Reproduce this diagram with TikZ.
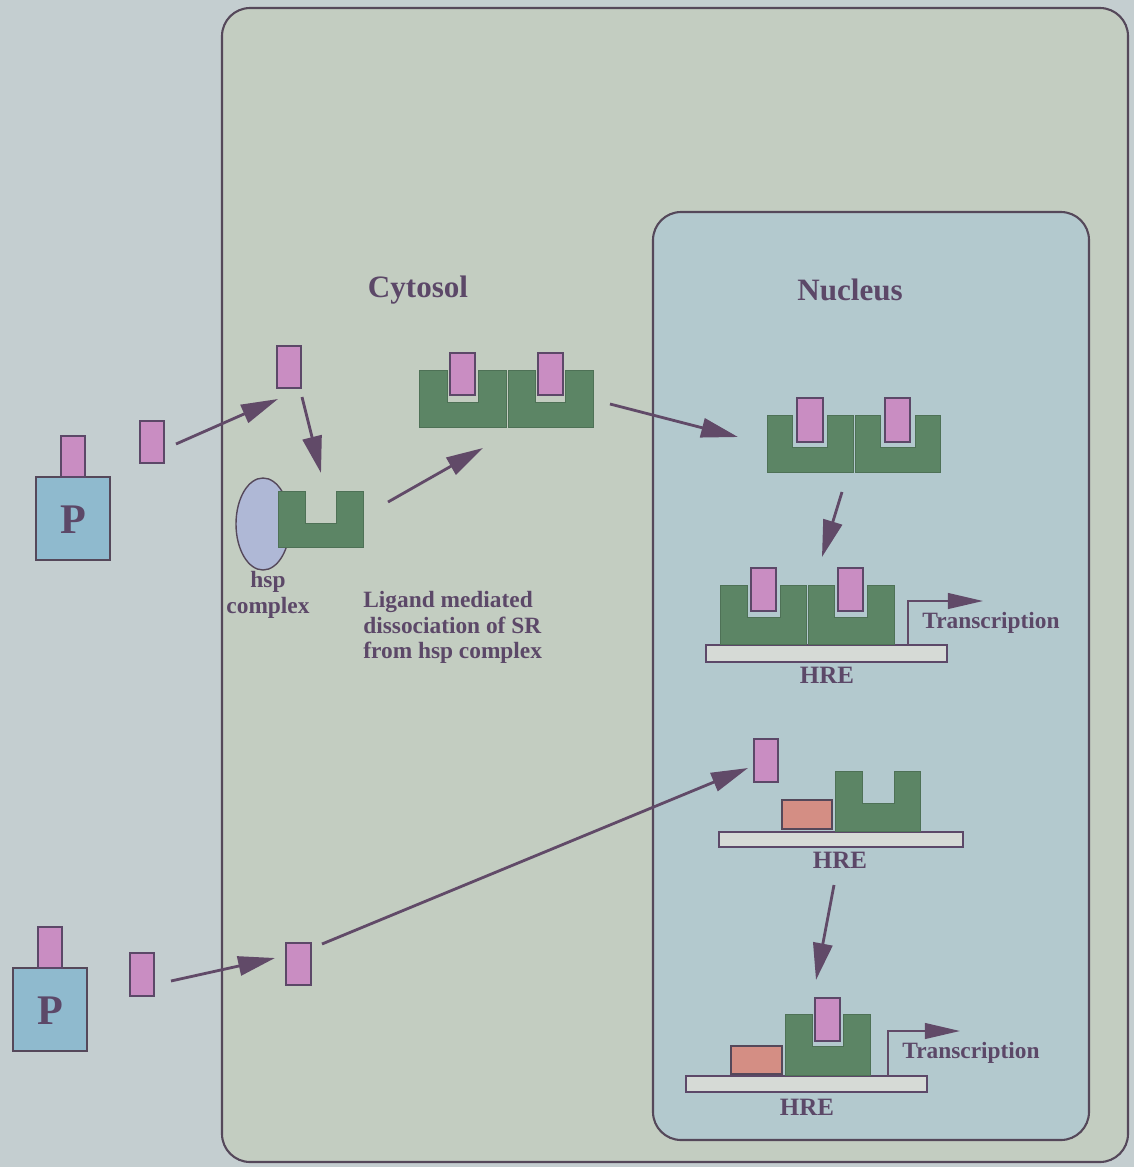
\documentclass[tikz,border=0pt]{standalone}
\usepackage{fontspec}
\setmainfont{Liberation Serif}
\usetikzlibrary{arrows.meta}
\definecolor{bgout}{HTML}{C4CED0}
\definecolor{cyto}{HTML}{C3CDC1}
\definecolor{nucl}{HTML}{B3C9CE}
\definecolor{lig}{HTML}{C98DC2}
\definecolor{rec}{HTML}{5C8565}
\definecolor{pbox}{HTML}{8FBACE}
\definecolor{hspc}{HTML}{AFB8D6}
\definecolor{coact}{HTML}{D48E84}
\definecolor{ink}{HTML}{5C4868}
\definecolor{arrc}{HTML}{614A68}
\definecolor{edge}{HTML}{55485A}
\definecolor{hre}{HTML}{D6DAD6}
\newcommand\ushape[7]{\filldraw[receptor] (#1,#2) -- (#5,#2) -- (#5,#7) -- (#6,#7) -- (#6,#2) -- (#3,#2) -- (#3,#4) -- (#1,#4) -- cycle;}
\begin{document}
\begin{tikzpicture}[x=0.02cm,y=-0.02cm,
 ligand/.style={fill=lig,draw=ink,line width=0.7pt},
 receptor/.style={fill=rec,draw=rec!85!black,line width=0.4pt},
 pboxst/.style={fill=pbox,draw=edge,line width=0.9pt},
 coactst/.style={fill=coact,draw=edge,line width=0.6pt},
 arr/.style={draw=arrc,line width=1.6pt,-{Triangle[length=21pt,width=11pt]}},
 tarr/.style={draw=arrc,line width=1pt,-{Triangle[length=20pt,width=9pt]}},
 lbl/.style={text=ink,font=\bfseries\fontsize{13.3}{14.5}\selectfont,inner sep=0pt},
 hrelbl/.style={text=ink,font=\bfseries\fontsize{14.2}{16}\selectfont,inner sep=0pt},
 titlest/.style={text=ink,font=\bfseries\fontsize{17.7}{20}\selectfont,inner sep=0pt},
 plbl/.style={text=ink,font=\bfseries\fontsize{24}{26}\selectfont,inner sep=0pt},
 hrebar/.style={fill=hre,draw=ink,line width=1pt},
 compart/.style={draw=edge,line width=1.2pt,rounded corners=16pt}]
\useasboundingbox (0,0) rectangle (1134,1167);
\fill[bgout] (0,0) rectangle (1134,1167);
% compartments
\filldraw[compart,fill=cyto] (222,8) rectangle (1128,1162);
\filldraw[compart,fill=nucl] (653,212) rectangle (1089,1140);
\node[titlest] (cytosol) at (418,290) {Cytosol};
\node[titlest] (nucleus) at (850,290) {Nucleus};
% P 1
\filldraw[pboxst] (36,477) rectangle (110,560);
\filldraw[ligand] (61,436) rectangle (85,477);
\node[plbl] (p1) at (73,520) {P};
\filldraw[ligand] (140,421) rectangle (164,463);
% P 2
\filldraw[pboxst] (13,968) rectangle (87,1051);
\filldraw[ligand] (38,927) rectangle (62,968);
\node[plbl] (p2) at (50,1011) {P};
\filldraw[ligand] (130,953) rectangle (154,996);
% cytosol ligands
\filldraw[ligand] (277,346) rectangle (301,388);
\filldraw[ligand] (286,943) rectangle (311,985);
% hsp complex
\filldraw[fill=hspc,draw=edge,line width=0.8pt] (263,524) ellipse [x radius=27,y radius=46];
\ushape{278}{491}{363}{547}{305}{336}{523}
\node[lbl,align=center] (hsp) at (268,595) {hsp\\complex};
\node[lbl,align=left,anchor=north west] (lig) at (363,591) {Ligand mediated\\dissociation of SR\\from hsp complex};
% cytosol dimer
\ushape{419}{370}{506}{427}{447}{478}{402}
\ushape{508}{370}{593}{427}{535}{565}{402}
\filldraw[ligand] (450,353) rectangle (475,395);
\filldraw[ligand] (538,353) rectangle (563,395);
% nucleus dimer
\ushape{767}{415}{853}{472}{792}{827}{447}
\ushape{855}{415}{940}{472}{880}{915}{447}
\filldraw[ligand] (797,398) rectangle (823,442);
\filldraw[ligand] (885,398) rectangle (910,442);
% dimer on HRE
\filldraw[hrebar] (706,645) rectangle (947,662);
\ushape{720}{585}{806}{644}{747}{780}{617}
\ushape{808}{585}{894}{644}{834}{867}{617}
\filldraw[ligand] (751,568) rectangle (776,611);
\filldraw[ligand] (838,568) rectangle (863,611);
\node[hrelbl] (hre1) at (827,675) {HRE};
\coordinate (t1s) at (908,645);
\coordinate (t1e) at (983,601);
\draw[tarr] (t1s) |- (t1e);
\node[lbl] (tr1) at (991,623) {Transcription};
% antagonist group
\filldraw[hrebar] (719,832) rectangle (963,847);
\filldraw[ligand] (754,739) rectangle (778,782);
\filldraw[coactst] (782,800) rectangle (832,829);
\ushape{835}{771}{920}{831}{862}{894}{803}
\node[hrelbl] (hre2) at (840,860) {HRE};
% bottom group
\filldraw[hrebar] (686,1076) rectangle (927,1092);
\filldraw[coactst] (731,1046) rectangle (782,1074);
\ushape{785}{1014}{870}{1075}{812}{843}{1046}
\filldraw[ligand] (815,998) rectangle (840,1041);
\node[hrelbl] (hre3) at (807,1107) {HRE};
\coordinate (t2s) at (888,1076);
\coordinate (t2e) at (960,1031);
\draw[tarr] (t2s) |- (t2e);
\node[lbl] (tr2) at (971,1053) {Transcription};
% arrows
\coordinate (a1s) at (176,444); \coordinate (a1e) at (278,399);
\coordinate (a2s) at (302,397); \coordinate (a2e) at (321,473);
\coordinate (a3s) at (388,502); \coordinate (a3e) at (483,448);
\coordinate (a4s) at (610,404); \coordinate (a4e) at (738,437);
\coordinate (a5s) at (842,492); \coordinate (a5e) at (822,557);
\coordinate (a6s) at (171,981); \coordinate (a6e) at (275,958);
\coordinate (a7s) at (322,944); \coordinate (a7e) at (748,768);
\coordinate (a8s) at (834,885); \coordinate (a8e) at (816,980);
\draw[arr] (a1s) -- (a1e);
\draw[arr] (a2s) -- (a2e);
\draw[arr] (a3s) -- (a3e);
\draw[arr] (a4s) -- (a4e);
\draw[arr] (a5s) -- (a5e);
\draw[arr] (a6s) -- (a6e);
\draw[arr] (a7s) -- (a7e);
\draw[arr] (a8s) -- (a8e);
\end{tikzpicture}
\end{document}
